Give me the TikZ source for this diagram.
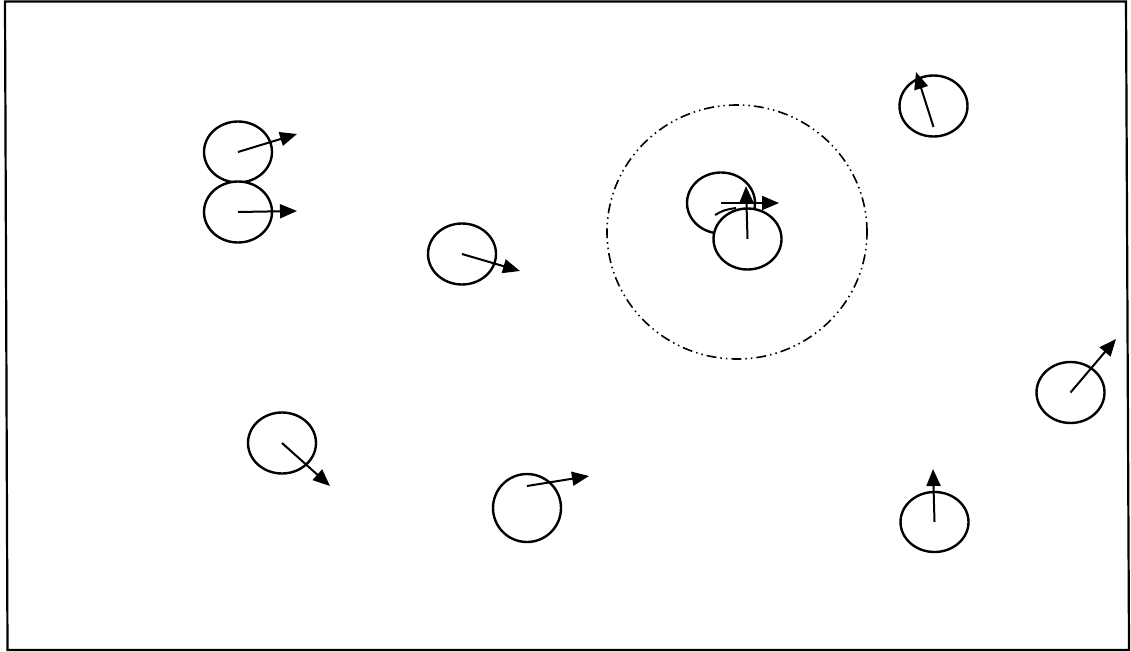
\documentclass[tikz,border=0pt]{standalone}
\usetikzlibrary{shapes.geometric, arrows.meta}
\tikzstyle{particle} = [
    ellipse,
    minimum width=68pt,
    minimum height=61pt,
    inner sep=0pt,
    line width=2.4pt,
    draw=black,
    fill=white
]
\tikzstyle{arrow} = [line width=2pt,-{Triangle[length=17pt,width=14pt]}]
\tikzstyle{zonerange} = [
    ellipse,
    inner sep=0pt,
    draw=black,
    line width=1.6pt,
    dash pattern=on 10pt off 4pt on 1.5pt off 4pt on 1.5pt off 4pt
]

\begin{document}
\begin{tikzpicture}[x=1pt, y=-1pt]

\useasboundingbox (0,0) rectangle (1131,652);

% Frame
\draw [line width=2.2pt] (5,1.5) -- (1126,1.5) -- (1129,650) -- (7.5,650) -- cycle;

% Neighbourhood
\node (zone) [zonerange, minimum width=260pt, minimum height=254pt] at (737,232) {};

\node (p1) [particle] at (238,152) {};
\node (p2) [particle] at (238,212) {};
\node (p3) [particle] at (462,254) {};
\node (p4) [particle] at (721,203) {};
\coordinate (t4) at (779,203);
\coordinate (s4a) at (715,215);
\coordinate (s4b) at (736,208);
\draw [line width=2pt] (s4a) .. controls (724,210) .. (s4b);
\draw [arrow] (p4.center) -- (t4);
\node (p5) [particle] at (747.5,239) {};
\node (p6) [particle] at (933.5,106) {};
\node (p7) [particle] at (1070.5,392.5) {};
\node (p8) [particle] at (282,443) {};
\node (p9) [particle, minimum height=68pt, minimum width=68pt] at (527,508) {};
\node (p10) [particle, minimum height=60pt] at (934.5,522) {};

\coordinate (t1) at (297,134);
\coordinate (t2) at (297,211);
\coordinate (t3) at (520,271);
\coordinate (t5) at (746,186);
\coordinate (t6) at (916,72);
\coordinate (t7) at (1116,339);
\coordinate (t8) at (330,486);
\coordinate (t9) at (589,476);
\coordinate (t10) at (933,469);

% Arrows
\draw [arrow] (p1.center) -- (t1);
\draw [arrow] (p2.center) -- (t2);
\draw [arrow] (p3.center) -- (t3);
\draw [arrow] (p5.center) -- (t5);
\draw [arrow] ([yshift=-21pt]p6.center) -- (t6);
\draw [arrow] (p7.center) -- (t7);
\draw [arrow] (p8.center) -- (t8);
\draw [arrow] ([yshift=22pt]p9.center) -- (t9);
\draw [arrow] (p10.center) -- (t10);

\end{tikzpicture}
\end{document}
